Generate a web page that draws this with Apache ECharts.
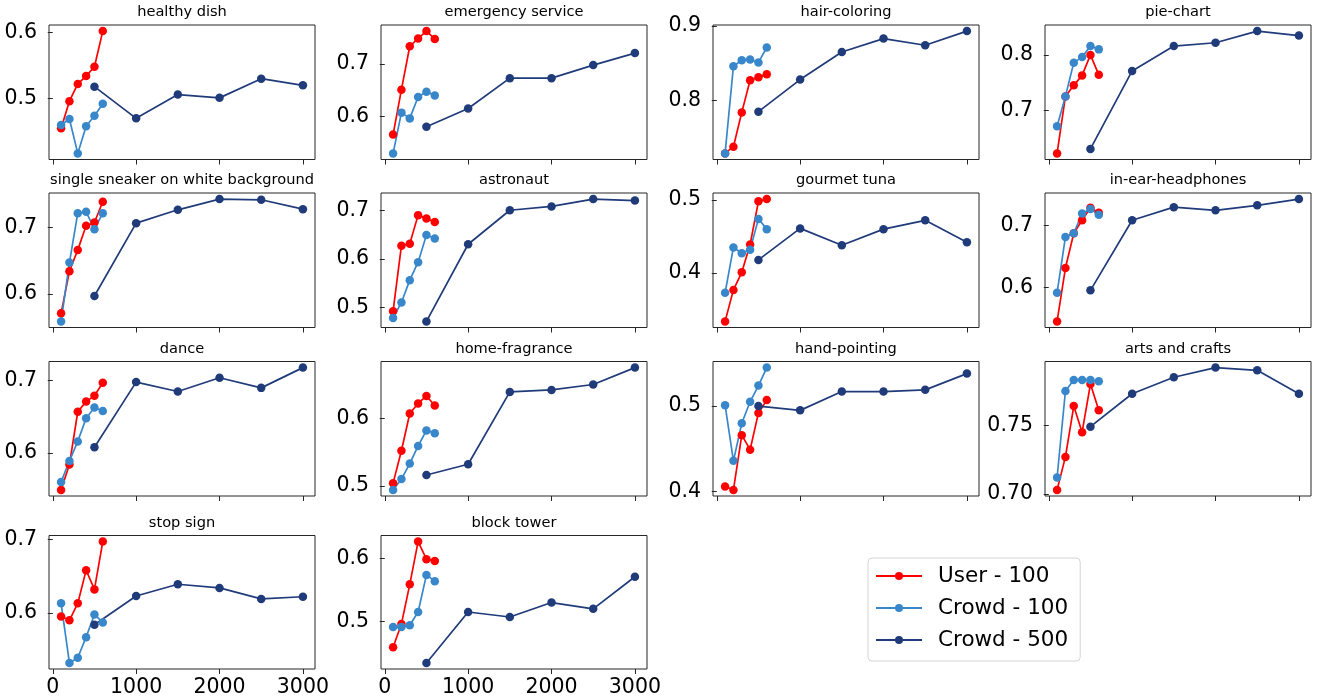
<!DOCTYPE html>
<html>
<head>
<meta charset="utf-8">
<script src="https://cdn.jsdelivr.net/npm/echarts@6/dist/echarts.min.js"></script>
<style>
html,body{margin:0;padding:0;background:#fff;}
#chart{width:1318px;height:698px;}
</style>
</head>
<body>
<div id="chart"></div>
<script>
const categories = ['healthy dish','emergency service','hair-coloring','pie-chart',
  'single sneaker on white background','astronaut','gourmet tuna','in-ear-headphones',
  'dance','home-fragrance','hand-pointing','arts and crafts','stop sign','block tower'];
const seriesNames = ['User - 100','Crowd - 100','Crowd - 500'];
const xSmall = [100,200,300,400,500,600];
const xLarge = [500,1000,1500,2000,2500,3000];

const user100 = [
  [0.455,0.496,0.522,0.534,0.548,0.602],
  [0.565,0.651,0.734,0.749,0.763,0.748],
  [0.729,0.738,0.784,0.827,0.831,0.835],
  [0.622,0.725,0.745,0.763,0.800,0.764],
  [0.571,0.634,0.666,0.702,0.707,0.738],
  [0.492,0.627,0.631,0.690,0.683,0.676],
  [0.334,0.377,0.401,0.439,0.498,0.501],
  [0.545,0.631,0.687,0.708,0.728,0.720],
  [0.549,0.584,0.657,0.671,0.679,0.697],
  [0.504,0.552,0.607,0.622,0.633,0.619],
  [0.406,0.402,0.466,0.449,0.492,0.507],
  [0.703,0.727,0.764,0.745,0.780,0.761],
  [0.595,0.590,0.613,0.658,0.632,0.697],
  [0.459,0.496,0.559,0.627,0.599,0.596]
];
const crowd100 = [
  [0.460,0.469,0.417,0.458,0.474,0.492],
  [0.529,0.607,0.596,0.637,0.647,0.640],
  [0.729,0.846,0.854,0.855,0.851,0.871],
  [0.671,0.725,0.786,0.796,0.816,0.810],
  [0.559,0.647,0.721,0.723,0.697,0.721],
  [0.478,0.510,0.556,0.593,0.649,0.642],
  [0.373,0.435,0.427,0.432,0.474,0.460],
  [0.591,0.681,0.687,0.719,0.726,0.717],
  [0.560,0.589,0.616,0.648,0.663,0.658],
  [0.494,0.510,0.533,0.559,0.582,0.578],
  [0.501,0.436,0.480,0.505,0.524,0.545],
  [0.712,0.775,0.783,0.783,0.783,0.782],
  [0.613,0.532,0.539,0.567,0.598,0.587],
  [0.491,0.491,0.494,0.515,0.574,0.564]
];
const crowd500 = [
  [0.518,0.470,0.506,0.501,0.530,0.520],
  [0.580,0.615,0.673,0.673,0.698,0.721],
  [0.785,0.828,0.865,0.883,0.874,0.893],
  [0.630,0.771,0.816,0.822,0.843,0.835],
  [0.597,0.706,0.726,0.742,0.741,0.727],
  [0.471,0.630,0.700,0.708,0.723,0.720],
  [0.418,0.461,0.438,0.460,0.472,0.442],
  [0.595,0.708,0.729,0.724,0.732,0.742],
  [0.608,0.698,0.685,0.704,0.690,0.718],
  [0.516,0.532,0.639,0.642,0.650,0.675],
  [0.500,0.495,0.517,0.517,0.519,0.538],
  [0.749,0.773,0.785,0.792,0.790,0.773],
  [0.584,0.623,0.639,0.634,0.619,0.622],
  [0.434,0.515,0.507,0.530,0.520,0.571]
];
const yTicks = [
  [0.5,0.6],[0.6,0.7],[0.8,0.9],[0.7,0.8],
  [0.6,0.7],[0.5,0.6,0.7],[0.4,0.5],[0.6,0.7],
  [0.6,0.7],[0.5,0.6],[0.4,0.5],[0.70,0.75],
  [0.6,0.7],[0.5,0.6]
];
const yTickLabels = [
  ['0.5','0.6'],['0.6','0.7'],['0.8','0.9'],['0.7','0.8'],
  ['0.6','0.7'],['0.5','0.6','0.7'],['0.4','0.5'],['0.6','0.7'],
  ['0.6','0.7'],['0.5','0.6'],['0.4','0.5'],['0.70','0.75'],
  ['0.6','0.7'],['0.5','0.6']
];
const xTicks = [0,1000,2000,3000];
const xTickLabels = ['0','1000','2000','3000'];

const colors = ['#ff0000','#3987cb','#203b7a'];
const FONT = 'DejaVu Sans';

const gridLefts = [49,381,713,1045];
const gridTops = [25,193,361.5,535.5];
const gridW = 266, gridH = 134.5;
const labelRows = [12,13]; // panels with x tick labels

const grids = [], xAxes = [], yAxes = [], titles = [], series = [];
categories.forEach((name, k) => {
  const r = Math.floor(k/4), c = k%4;
  grids.push({left: gridLefts[c], top: gridTops[r], width: gridW, height: gridH,
    show: true, borderColor: '#262626', borderWidth: 1, backgroundColor: 'transparent'});
  titles.push({text: name, left: gridLefts[c] + gridW/2, top: gridTops[r] - 20, textAlign: 'center',
    padding: 0, textStyle: {fontFamily: FONT, fontSize: 14.6, fontWeight: 'normal', color: '#000'}});
  const showX = labelRows.indexOf(k) >= 0;
  xAxes.push({type: 'value', gridIndex: k,
    min: v => v.min - 0.05*(v.max - v.min), max: v => v.max + 0.05*(v.max - v.min),
    axisLine: {show: false}, splitLine: {show: false},
    axisTick: {show: true, length: 5, lineStyle: {color: '#262626', width: 1}, customValues: xTicks},
    axisLabel: {show: showX, customValues: xTicks, margin: 8, fontFamily: FONT, fontSize: 20.5, color: '#000',
      formatter: v => xTickLabels[xTicks.indexOf(v)]}
  });
  const tk = yTicks[k], tl = yTickLabels[k];
  yAxes.push({type: 'value', gridIndex: k, scale: true,
    min: v => v.min - 0.05*(v.max - v.min), max: v => v.max + 0.05*(v.max - v.min),
    axisLine: {show: false}, splitLine: {show: false},
    axisTick: {show: true, length: 5, lineStyle: {color: '#262626', width: 1}, customValues: tk},
    axisLabel: {show: true, customValues: tk, margin: 12, fontFamily: FONT, fontSize: 20.5, color: '#000',
      formatter: v => { let best = 0; tk.forEach((t,i)=>{ if (Math.abs(t-v) < Math.abs(tk[best]-v)) best = i; }); return tl[best]; }}
  });
  const sets = [[xSmall, user100[k]], [xSmall, crowd100[k]], [xLarge, crowd500[k]]];
  sets.forEach((s, j) => {
    series.push({type: 'line', name: seriesNames[j], xAxisIndex: k, yAxisIndex: k,
      data: s[0].map((x,i) => [x, s[1][i]]),
      symbol: 'circle', symbolSize: 8.5, showSymbol: true, clip: false,
      lineStyle: {color: colors[j], width: 1.7}, itemStyle: {color: colors[j]},
      emphasis: {disabled: true}, animation: false});
  });
});

const chart = echarts.init(document.getElementById('chart'), null, {renderer: 'canvas'});
chart.setOption({
  animation: false,
  title: titles,
  grid: grids,
  xAxis: xAxes,
  yAxis: yAxes,
  series: series,
  legend: {data: seriesNames, orient: 'vertical', left: 868, top: 558,
    padding: [6, 12, 9, 7], itemGap: 8, itemWidth: 46, itemHeight: 10,
    borderColor: '#d4d4d4', borderWidth: 1, borderRadius: 4, backgroundColor: '#fff',
    textStyle: {fontFamily: FONT, fontSize: 21.5, color: '#000', lineHeight: 24, padding: [0,0,0,11]},
    selectedMode: false}
});
</script>
</body>
</html>
